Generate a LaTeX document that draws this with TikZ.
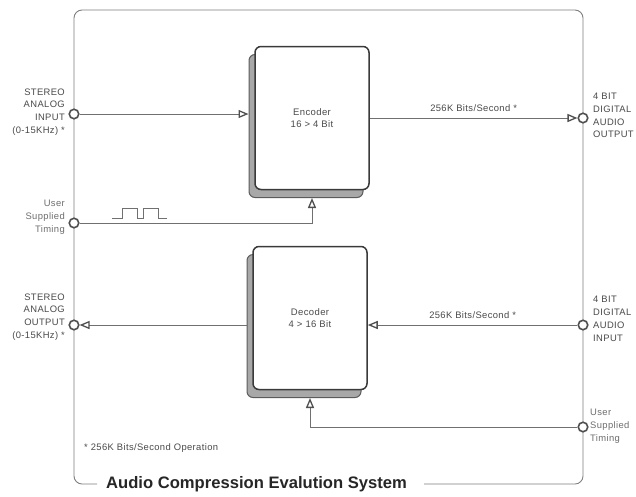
\documentclass[tikz,border=0pt]{standalone}
\usepackage{fontspec}
\setmainfont{Liberation Sans}
\newfontfamily\lab{Liberation Sans}[LetterSpace=4]
\usetikzlibrary{arrows.meta,calc}
\definecolor{linec}{HTML}{707070}
\definecolor{portc}{HTML}{505050}
\definecolor{blockc}{HTML}{3A3A3A}
\definecolor{txtc}{HTML}{4A4A4A}
\definecolor{shadc}{HTML}{A8A8A8}
\tikzset{
  wire/.style={draw=linec, line width=0.9pt},
  arr/.style={wire, -{Triangle[open,length=10pt,width=8pt,line width=1.3pt,color=portc]}},
  port/.style={circle, draw=portc, fill=white, line width=1.6pt, minimum size=9.5pt, inner sep=0pt},
  front/.style={draw=blockc, fill=white, line width=1.5pt, rounded corners=6pt,
    minimum width=114pt, minimum height=143pt, inner sep=0pt, align=center,
    font=\lab\fontsize{9.5}{12.5}\selectfont, text=txtc},
  back/.style={draw=shadc!55!black, fill=shadc, line width=1pt, rounded corners=6pt,
    minimum width=114pt, minimum height=143pt, inner sep=0pt},
  lbl/.style={font=\lab\fontsize{9.4}{12.8}\selectfont, text=txtc, inner sep=0pt},
  frame/.style={draw=linec!90, line width=0.9pt, rounded corners=8pt},
}
\begin{document}
\begin{tikzpicture}[x=1pt,y=-1pt]
\useasboundingbox[fill=white] (0,0) rectangle (636,496);

% title and outer frame
\node[anchor=west, inner sep=0pt, font=\bfseries\fontsize{16.6}{18}\selectfont, text=black!85] (title) at (106,484) {Audio Compression Evalution System};
\coordinate (fl) at (97,484);
\coordinate (fr) at (424,484);
\draw[frame] (fl) -- (74,484) -- (74,10) -- (583,10) -- (583,484) -- (fr);

% blocks
\node[back] (encS) at (306,126) {};
\node[front] (enc) at (312,118) {Encoder\\16 > 4 Bit};
\node[back] (decS) at (304,326) {};
\node[front] (dec) at (310,318) {Decoder\\4 > 16 Bit};

% ports
\node[port] (inA) at (74,114) {};
\node[port] (tL) at (74,223) {};
\node[port] (outA) at (74,325) {};
\node[port] (outD) at (583,118) {};
\node[port] (inD) at (583,325) {};
\node[port] (tR) at (583,427) {};

% port labels
\node[lbl, anchor=east, align=right] (inAl) at (65,112) {STEREO\\ANALOG\\INPUT\\(0-15KHz) *};
\node[lbl, anchor=east, align=right, text=txtc!80] (tLl) at (65,217) {User\\Supplied\\Timing};
\node[lbl, anchor=east, align=right] (outAl) at (65,317) {STEREO\\ANALOG\\OUTPUT\\(0-15KHz) *};
\node[lbl, anchor=west, align=left] (outDl) at (593,115.5) {4 BIT\\DIGITAL\\AUDIO\\OUTPUT};
\node[lbl, anchor=west, align=left] (inDl) at (593,319) {4 BIT\\DIGITAL\\AUDIO\\INPUT};
\node[lbl, anchor=west, align=left, text=txtc!80] (tRl) at (590,426) {User\\Supplied\\Timing};

% connectors
\draw[arr] (inA) -- (inA -| encS.west);
\draw[arr] (enc.east) -- node[lbl, midway, above=6pt] (rate1) {256K Bits/Second *} (outD);
\draw[arr] (tL) -| (enc.south |- encS.south);
\draw[arr] (decS.west |- outA) -- (outA);
\draw[arr] (inD) -- node[lbl, midway, above=6pt] (rate2) {256K Bits/Second *} (dec.east |- inD);
\draw[arr] (tR) -| (dec.south |- decS.south);

% clock pulse
\draw[wire, line width=0.8pt] (112,218) -- (122,218) -- (122,208) -- (137,208) -- (137,218) -- (143,218)
  -- (143,208) -- (158,208) -- (158,218) -- (167,218);

% footnote
\node[lbl, anchor=west] (note) at (84,448) {* 256K Bits/Second Operation};
\end{tikzpicture}
\end{document}
